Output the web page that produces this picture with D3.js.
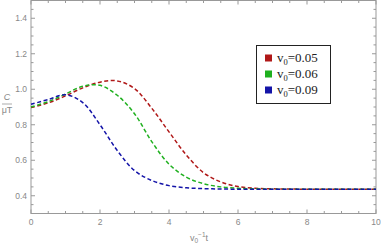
<!DOCTYPE html>
<html><head><meta charset="utf-8">
<script src="https://cdn.jsdelivr.net/npm/d3@7"></script>
<style>body{margin:0;background:#fff}svg{display:block}</style>
</head><body>
<script>
const tGrid = [0,0.5,1,1.5,2,2.5,3,3.5,4,4.5,5,5.5,6,6.5,7,8,9,10];
const red   = [0.897,0.923,0.963,1.008,1.040,1.047,1.004,0.893,0.760,0.630,0.530,0.478,0.452,0.442,0.439,0.437,0.437,0.437];
const green = [0.900,0.930,0.973,1.017,1.022,0.966,0.862,0.705,0.578,0.505,0.468,0.450,0.442,0.439,0.437,0.437,0.437,0.437];
const blue  = [0.915,0.942,0.969,0.925,0.800,0.655,0.542,0.486,0.457,0.445,0.440,0.438,0.437,0.437,0.437,0.437,0.437,0.437];
const seriesNames = ["0.05","0.06","0.09"];
const colors = ["#b01818","#1fb01f","#1414a8"];
const xTicks = [0,2,4,6,8,10];
const yTicks = [0.4,0.6,0.8,1.0,1.2,1.4];

const W=382,H=245;
const svg=d3.select("body").append("svg").attr("width",W).attr("height",H);
const x=d3.scaleLinear().domain([0,10]).range([31,376]);
const y=d3.scaleLinear().domain([0.3,1.5]).range([213.5,0.5]);
const gray="#999", lab="#888";

const fr=svg.append("g").attr("stroke",gray).attr("stroke-width",1).attr("fill","none");
fr.append("rect").attr("x",x(0)).attr("y",y(1.5)).attr("width",x(10)-x(0)).attr("height",y(0.3)-y(1.5));
const xMinor=d3.range(0,10.001,0.5), yMinor=d3.range(0.3,1.5001,0.05);
xMinor.forEach(v=>{
  const major=Math.abs(v/2-Math.round(v/2))<1e-6; const L=major?4:2.5;
  fr.append("line").attr("x1",x(v)).attr("x2",x(v)).attr("y1",y(0.3)).attr("y2",y(0.3)-L);
  fr.append("line").attr("x1",x(v)).attr("x2",x(v)).attr("y1",y(1.5)).attr("y2",y(1.5)+L);
});
yMinor.forEach(v=>{
  const major=Math.abs(v*5-Math.round(v*5))<1e-6; const L=major?4:2.5;
  fr.append("line").attr("y1",y(v)).attr("y2",y(v)).attr("x1",x(0)).attr("x2",x(0)+L);
  fr.append("line").attr("y1",y(v)).attr("y2",y(v)).attr("x1",x(10)).attr("x2",x(10)-L);
});
svg.append("g").selectAll("text").data(xTicks).join("text")
  .attr("x",d=>x(d)).attr("y",225).attr("text-anchor","middle")
  .attr("font-family","Liberation Sans, Arial, sans-serif").attr("font-size",8.5).attr("fill",lab)
  .text(d=>d);
svg.append("g").selectAll("text").data(yTicks).join("text")
  .attr("x",27).attr("y",d=>y(d)+3).attr("text-anchor","end")
  .attr("font-family","Liberation Sans, Arial, sans-serif").attr("font-size",8.5).attr("fill",lab)
  .text(d=>d.toFixed(1));

const xl=svg.append("text").attr("x",199).attr("y",241).attr("text-anchor","middle")
  .attr("font-family","Liberation Sans, Arial, sans-serif").attr("font-size",9).attr("fill",lab);
xl.append("tspan").text("v");
xl.append("tspan").attr("font-size",6.5).attr("dy",2).text("0");
xl.append("tspan").attr("font-size",6.5).attr("dy",-6).text("−1");
xl.append("tspan").attr("dy",4).text("t");
const yl=svg.append("g").attr("font-family","Liberation Sans, Arial, sans-serif").attr("font-size",9).attr("fill",lab);
yl.append("text").attr("x",7).attr("y",100).attr("text-anchor","middle").attr("font-style","italic").text("C");
yl.append("line").attr("x1",2).attr("x2",12).attr("y1",104).attr("y2",104).attr("stroke",lab).attr("stroke-width",0.7);
yl.append("text").attr("x",7).attr("y",113).attr("text-anchor","middle").text("μT");

const all=[red,green,blue];
const line=d3.line().x(d=>x(d[0])).y(d=>y(d[1])).curve(d3.curveCatmullRom.alpha(0.5));
all.forEach((s,i)=>{
  svg.append("path").datum(tGrid.map((t,j)=>[t,s[j]]))
    .attr("d",line).attr("fill","none").attr("stroke",colors[i])
    .attr("stroke-width",1.5).attr("stroke-dasharray","4,2.5");
});

const lg=svg.append("g");
lg.append("rect").attr("x",256.5).attr("y",45.5).attr("width",74).attr("height",58)
  .attr("fill","#fff").attr("stroke","#222").attr("stroke-width",1);
seriesNames.forEach((n,i)=>{
  const cy=58+i*16;
  lg.append("rect").attr("x",265).attr("y",cy-3.5).attr("width",7).attr("height",7).attr("fill",colors[i]);
  const t=lg.append("text").attr("x",277).attr("y",cy+4).attr("font-family","Liberation Serif, Times New Roman, serif")
    .attr("font-size",13).attr("fill","#222");
  t.append("tspan").text("v");
  t.append("tspan").attr("font-size",8.5).attr("dy",2.5).text("0");
  t.append("tspan").attr("dy",-2.5).text("=" + n);
});
</script>
</body></html>
